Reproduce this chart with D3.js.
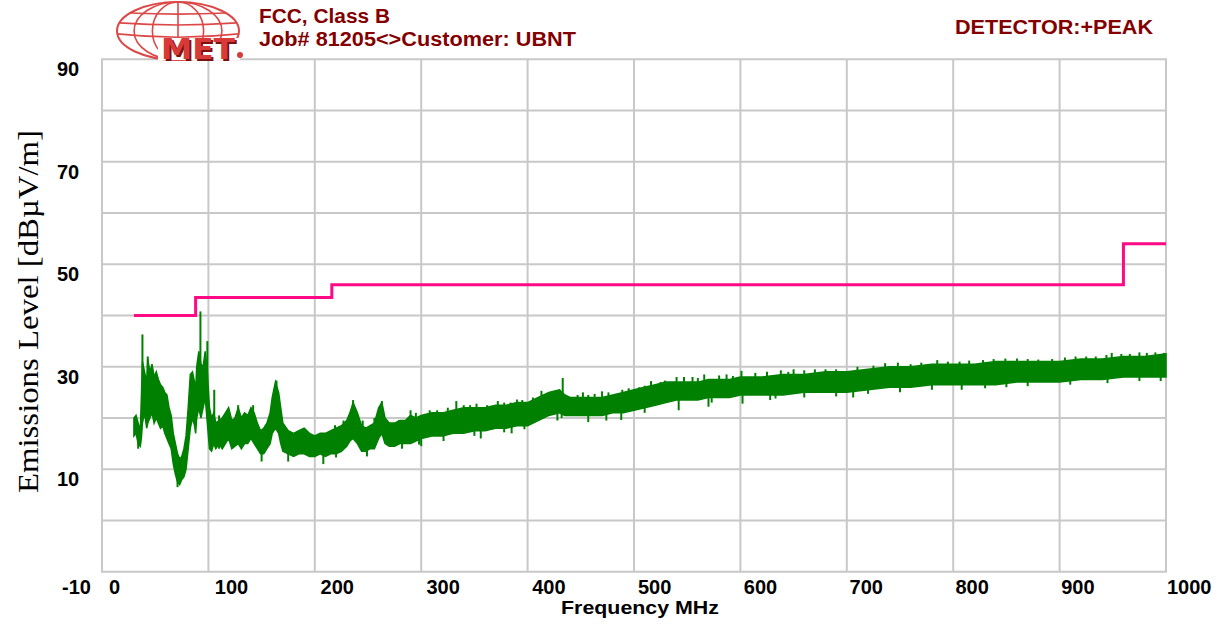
<!DOCTYPE html>
<html>
<head>
<meta charset="utf-8">
<script src="https://cdn.jsdelivr.net/npm/d3@7"></script>
<style>
  html, body { margin: 0; padding: 0; background: #ffffff; }
  svg { display: block; }
</style>
</head>
<body>
<svg id="chart" width="1228" height="626"></svg>
<script>
// ---------------- DATA ----------------
const title1 = "FCC, Class B";
const title2 = "Job# 81205<>Customer: UBNT";
const detectorText = "DETECTOR:+PEAK";
const xAxisTitle = "Frequency MHz";
const yAxisTitle = "Emissions Level [dBµV/m]";

const xGridValues = [0, 100, 200, 300, 400, 500, 600, 700, 800, 900, 1000];
const xTickLabels = ["0", "100", "200", "300", "400", "500", "600", "700", "800", "900", "1000"];
const yGridValues = [-10, 0, 10, 20, 30, 40, 50, 60, 70, 80, 90];
const yTickValues = [90, 70, 50, 30, 10, -10];
const yTickLabels = ["90", "70", "50", "30", "10", "-10"];

// FCC Class B limit line (step)
const limitFreq = [30, 88, 88, 216, 216, 960, 960, 1000];
const limitLevel = [40, 40, 43.5, 43.5, 46, 46, 54, 54];

// Peak trace envelope (MHz, dBµV/m low / high)
const traceFreq = [30,32,34,36,37,38,40,42,43,45,47,49,51,53,55,57,59,61,63,65,67,69,71,73,75,77,79,81,83,85,87,88,89,91,93,95,97,99,101,103,105,107,110,113,116,119,122,125,128,131,134,137,140,143,146,149,152,155,158,160,163,166,168,170,175,180,185,190,195,200,205,210,215,220,225,230,233,236,240,244,248,252,256,260,263,266,270,275,280,285,290,295,300,310,320,330,340,350,360,370,380,390,400,410,420,430,435,440,450,460,470,480,490,500,510,520,530,540,550,560,570,580,590,600,610,620,640,660,680,700,720,740,760,780,800,820,840,860,880,900,920,940,960,980,1000];
const traceLow = [16.5,17,15,14.5,16,19,21,18,19,20,21,19,20,19,18,18.5,17,16,15,14,11,9,7.5,7,8,8.5,10,14,18,20,18.5,17,20,22,20,22,24,19,14,13.5,15,14,15,14,15,16,14,14.5,15,14,15,15,16,15,14,13,13,14,15,17,18,17,15,13.5,13,12.5,13,13,12.5,12.5,13,12.5,13,13,13.5,14.5,15.5,16,15,13.5,13.5,14,14,16,17,15,14.5,14.5,15,15,15,15.5,16,16.5,16.5,17,17,17.5,17.5,18,18,18.5,18.5,19.5,20.5,21,20.5,20.5,20.5,20.5,20.5,21,21,21.5,22,22.5,23,23.5,23.5,23.5,24,24,24,24.5,24.5,24.5,24.5,25,25,25,25.5,26,26,26.5,26.5,26.5,26.5,27,27,27,27.5,27.5,28,28,28];
const traceHigh = [20,20.5,19,17.5,24,31,29,27,31.5,29,30.5,28,29,27.5,26.5,26,25,24.5,22,20.5,17,15,13,12,12.5,14,16.5,22,28.5,29,27,25,30,33,30.5,30,33,29,22,20,21,19,19.5,20,21,22,19.5,20,22,20,21,20.5,22,21,19,17.5,18,19,21,24,27,25,22,19,17.5,17,17.5,18,17,16.5,17,17,17.5,18,18.5,19.5,21,23,21,18.5,18,18.5,19,22,23,20,19,19,19.5,19.5,20.5,20,20.5,21,21,21.5,22,22,22,22.5,22.5,23,23,24,25,25.5,24.5,24,24,24,24,24.5,25,25.5,26,26.5,27,27,27,27,27.5,27.5,27.5,28,28,28,28.5,28.5,29,29,29.5,30,30,30.5,30.5,30.5,31,31,31,31,31.5,31.5,32,32,32.5];

// Individual spikes (MHz, bottom, top)
const spikeFreq = [38,43,92.5,99,105.5,110,118,128,142,164,34,71,150,175,208,236,249,263,290,300,333,352,356,372,385,390,413,428,433,452,470,474,489,516,540,555,566,573,580,601,625,628,650,680,706,710,736,760,785,806,808,828,849,850,870,893,915,934,949,966,982,998,
  219,227,245,256,279,295,308,315,325,340,346,362,378,384,395,405,422,447,457,463,476,495,505,510,525,529,547,560,587,593,614,638,645,660,670,690,725,748,770,795,815,838,860,880,905,925,944,958,975,990,
  220,249,282,298,321,350,378,397,432,457,488,510,542,570,602,633,660,690,720,750,780,830,870,910,945,975,995];
const spikeLow = [20,22,26,26,16,14,16,16,16,18,14,6.5,11.5,11.5,11,18,12.5,18,17,14.5,18,18,16,19,17,19.5,21,19.5,22,21,21,19.5,21.5,22.5,23.5,24,24.5,23,24.5,25,25,23.5,25.5,25.5,24,26,26.5,26.5,27,27,25.5,27,27.5,26,27.5,27.5,28,28,28.5,28.5,28.5,28.5,
  15,15,15,15,16,17,17.5,18,18,18.5,18.5,19,19.5,19.5,20,20.5,22,21.5,21.5,21.5,22,22,23,23,24,24,25,25,25,25,25.5,25.5,26,26,26,26,27,27,27.5,27.5,27.5,28,28,28,28.5,28.5,29,29,29,29,
  12.3,13,14,14.8,15.5,16.5,17.2,17.8,20,19.2,19.6,21,21.5,22.2,22.8,23.8,24,24.2,24.7,25,25.5,25.8,26.2,26.5,26.8,27.2,27.2];
const spikeHigh = [36.3,32,40.8,35,25.5,20.5,21.5,22.5,22.5,27.3,18,10,14,14,14,23.5,15,23.3,21.5,17,23.3,22.8,18.5,23.3,19.5,23.6,25.3,22,27.8,25,25.2,22,25.5,27.2,28,28,28.5,25.5,28.3,29.2,29,26,29.5,29.5,26.5,30,30.7,30.5,31.3,31,28,31.3,31.6,28,31.5,31.5,32,32,32.7,32.5,32.7,32.7,
  18.6,19.5,19.5,20,19.6,21,21.5,21.5,22,22.5,22.5,22.5,23,23,23.5,24,25,24.5,24.5,24.7,25,25.8,26,26.3,27,27.3,28,27.8,28.5,28.2,28.8,29.3,29,29.3,29.5,29.5,30.2,30.8,30.8,31,31.2,31.5,31.6,31.4,31.8,32,32.3,32.5,32.8,32.8,
  15,16,17,17.5,18,19,19.5,20,22.5,22,22.5,23.5,24,25,25.5,26,26.5,27,27.5,28,28,28.5,29,29,29.5,29.5,29.5];

// ---------------- DRAW ----------------
const svg = d3.select("#chart");
const W = 1228, H = 626;
svg.append("rect").attr("width", W).attr("height", H).attr("fill", "#ffffff");

const x = d3.scaleLinear().domain([0, 1000]).range([102, 1166]);
const y = d3.scaleLinear().domain([-10, 90]).range([571.7, 59.3]);
const xLabelPos = d3.scaleLinear().domain([0, 1000]).range([109, 1167]);

const gridColor = "#c8c8c8";
const darkRed = "#840000";

// grid
const grid = svg.append("g");
grid.selectAll("line.v").data(xGridValues).enter().append("line")
  .attr("x1", d => x(d)).attr("x2", d => x(d))
  .attr("y1", y(90)).attr("y2", y(-10))
  .attr("stroke", gridColor).attr("stroke-width", 2);
grid.selectAll("line.h").data(yGridValues).enter().append("line")
  .attr("x1", x(0) - 1).attr("x2", x(1000) + 1)
  .attr("y1", d => y(d)).attr("y2", d => y(d))
  .attr("stroke", gridColor).attr("stroke-width", 2);

// tick labels
const tickFont = "'Liberation Sans', Arial, sans-serif";
svg.selectAll("text.xt").data(xGridValues).enter().append("text")
  .attr("x", d => xLabelPos(d)).attr("y", 594)
  .attr("font-family", tickFont).attr("font-weight", "bold").attr("font-size", 20)
  .attr("fill", "#000").attr("text-anchor", "start")
  .text((d, i) => xTickLabels[i]);

svg.selectAll("text.yt").data(yTickValues).enter().append("text")
  .attr("x", d => d < 0 ? 62 : 57).attr("y", d => d < 0 ? 594 : y(d) + 17)
  .attr("font-family", tickFont).attr("font-weight", "bold").attr("font-size", 20)
  .attr("fill", "#000").attr("text-anchor", "start")
  .text((d, i) => yTickLabels[i]);

// axis titles
svg.append("text").attr("x", 561).attr("y", 614)
  .attr("font-family", tickFont).attr("font-weight", "bold").attr("font-size", 18)
  .attr("textLength", 158).attr("lengthAdjust", "spacingAndGlyphs")
  .text(xAxisTitle);

svg.append("text")
  .attr("transform", "translate(38,493) rotate(-90)")
  .attr("font-family", "'Liberation Serif', 'Times New Roman', serif").attr("font-size", 30)
  .attr("textLength", 363).attr("lengthAdjust", "spacingAndGlyphs")
  .attr("fill", "#000")
  .text(yAxisTitle);

// header texts
svg.append("text").attr("x", 259).attr("y", 23)
  .attr("font-family", tickFont).attr("font-weight", "bold").attr("font-size", 20)
  .attr("fill", darkRed).attr("textLength", 131).attr("lengthAdjust", "spacingAndGlyphs")
  .text(title1);
svg.append("text").attr("x", 259).attr("y", 46)
  .attr("font-family", tickFont).attr("font-weight", "bold").attr("font-size", 20)
  .attr("fill", darkRed).attr("textLength", 317).attr("lengthAdjust", "spacingAndGlyphs")
  .text(title2);
svg.append("text").attr("x", 955).attr("y", 34)
  .attr("font-family", tickFont).attr("font-weight", "bold").attr("font-size", 20)
  .attr("fill", darkRed).attr("textLength", 198).attr("lengthAdjust", "spacingAndGlyphs")
  .text(detectorText);

// logo (globe + MET)
const logo = svg.append("g");
const gc = {cx: 178, cy: 31, rx: 61, ry: 29};
const globeColor = "#dc4848";
logo.append("ellipse").attr("cx", gc.cx).attr("cy", gc.cy).attr("rx", gc.rx).attr("ry", gc.ry)
  .attr("fill", "none").attr("stroke", globeColor).attr("stroke-width", 2);
[0.72, 0.42].forEach(k => {
  logo.append("ellipse").attr("cx", gc.cx).attr("cy", gc.cy).attr("rx", gc.rx * k).attr("ry", gc.ry)
    .attr("fill", "none").attr("stroke", globeColor).attr("stroke-width", 1.6);
});
logo.append("line").attr("x1", gc.cx).attr("x2", gc.cx).attr("y1", gc.cy - gc.ry).attr("y2", gc.cy + gc.ry)
  .attr("stroke", globeColor).attr("stroke-width", 1.6);
[-0.62, -0.28, 0.1].forEach(k => {
  const yy = gc.cy + k * gc.ry;
  const hw = gc.rx * Math.sqrt(1 - k * k);
  logo.append("path")
    .attr("d", `M${gc.cx - hw},${yy} Q${gc.cx},${yy + 6 * (1 + k)} ${gc.cx + hw},${yy}`)
    .attr("fill", "none").attr("stroke", globeColor).attr("stroke-width", 1.6);
});
logo.append("rect").attr("x", 158).attr("y", 38).attr("width", 82).attr("height", 22).attr("fill", "#fff");
logo.append("text").attr("x", 163).attr("y", 61)
  .attr("font-family", "'DejaVu Sans', sans-serif").attr("font-weight", "bold").attr("font-size", 28)
  .attr("textLength", 74).attr("lengthAdjust", "spacingAndGlyphs")
  .attr("fill", "#7a1010").text("MET");
logo.append("text").attr("x", 161).attr("y", 59)
  .attr("font-family", "'DejaVu Sans', sans-serif").attr("font-weight", "bold").attr("font-size", 28)
  .attr("textLength", 74).attr("lengthAdjust", "spacingAndGlyphs")
  .attr("fill", "#d83a3a").text("MET");
logo.append("circle").attr("cx", 240).attr("cy", 55).attr("r", 3).attr("fill", "#d83a3a");

// trace
const trace = traceFreq.map((f, i) => ({f, lo: traceLow[i], hi: traceHigh[i]}));
const area = d3.area().x(d => x(d.f)).y0(d => y(d.lo)).y1(d => y(d.hi));
svg.append("path").datum(trace).attr("d", area)
  .attr("fill", "#008000").attr("stroke", "#008000").attr("stroke-width", 1.5)
  .attr("stroke-linejoin", "miter");

const spikes = spikeFreq.map((f, i) => ({f, lo: spikeLow[i], hi: spikeHigh[i]}));
svg.selectAll("line.spike").data(spikes).enter().append("line")
  .attr("x1", d => x(d.f)).attr("x2", d => x(d.f))
  .attr("y1", d => y(d.lo)).attr("y2", d => y(d.hi))
  .attr("stroke", "#008000").attr("stroke-width", 2);

// limit line
const limit = limitFreq.map((f, i) => ({f, v: limitLevel[i]}));
svg.append("path").datum(limit)
  .attr("d", d3.line().x(d => x(d.f)).y(d => y(d.v)))
  .attr("fill", "none").attr("stroke", "#ff0a84").attr("stroke-width", 3);
</script>
</body>
</html>
